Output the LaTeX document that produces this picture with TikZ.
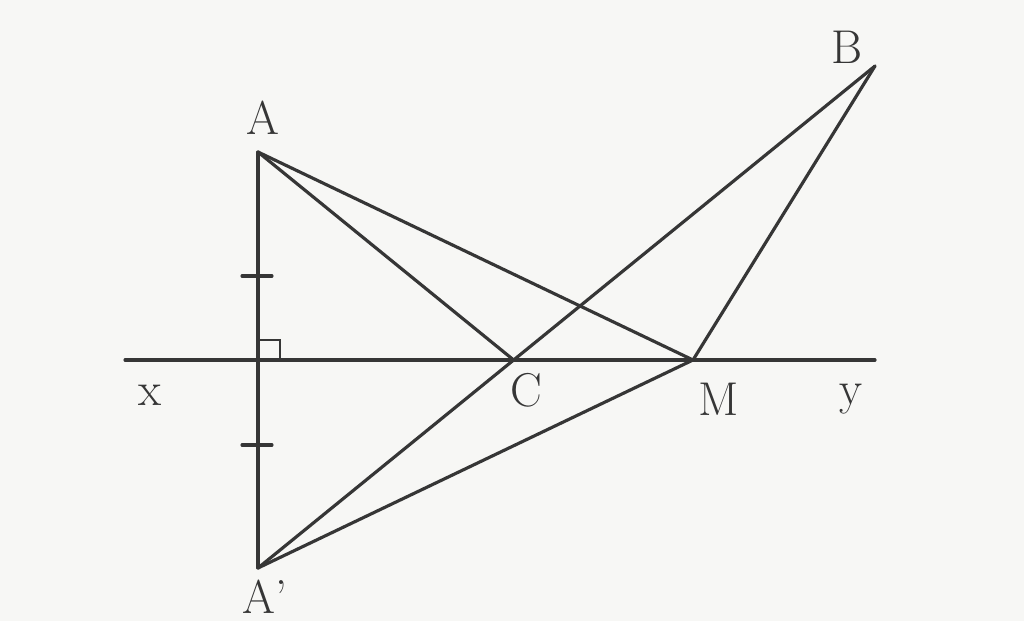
\documentclass[tikz,border=0pt]{standalone}
\usetikzlibrary{calc,intersections}
\definecolor{ink}{HTML}{363636}
\definecolor{paper}{HTML}{F7F7F5}
\begin{document}
\begin{tikzpicture}[x=0.02cm,y=-0.02cm,
  seg/.style={draw=ink,line width=1.8pt,line cap=round},
  lbl/.style={text=ink,font=\fontsize{27}{27}\selectfont,inner sep=0pt}]
\fill[paper] (0,0) rectangle (1024,621);
\useasboundingbox (0,0) rectangle (1024,621);
% points
\coordinate (A) at (258,152);
\coordinate (Ap) at (258,568);
\coordinate (B) at (875,66);
\coordinate (M) at (693,360);
\coordinate (X) at (125,360);
\coordinate (Y) at (875,360);
\coordinate (H) at (258,360);
\path[name path=ab] (Ap) -- (B);
\path[name path=xy] (X) -- (Y);
\path[name intersections={of=ab and xy,by=C}];
% lines
\draw[seg] (X) -- (Y);
\draw[seg] (A) -- (Ap);
\draw[seg] (A) -- (C);
\draw[seg] (A) -- (M);
\draw[seg] (Ap) -- (B);
\draw[seg] (Ap) -- (M);
\draw[seg] (M) -- (B);
% ticks
\coordinate (T1) at (258,276);
\coordinate (T2) at (258,445);
\draw[seg] ($(T1)+(-16,0)$) -- ($(T1)+(14,0)$);
\draw[seg] ($(T2)+(-16,0)$) -- ($(T2)+(14,0)$);
% right angle
\draw[draw=ink,line width=1.5pt] ($(H)+(0,-20)$) -- ($(H)+(22,-20)$) -- ($(H)+(22,0)$);
% labels
\node[lbl] (lA) at (263,118) {A};
\node[lbl] (lAp) at (265,597) {A'};
\node[lbl] (lB) at (847,47) {B};
\node[lbl] (lC) at (526,390) {C};
\node[lbl] (lM) at (719,399) {M};
\node[lbl] (lx) at (150,395) {x};
\node[lbl] (ly) at (851,399) {y};
\end{tikzpicture}
\end{document}
